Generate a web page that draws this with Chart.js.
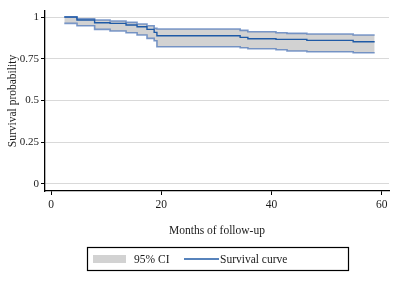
<!DOCTYPE html>
<html lang="en">
<head>
  <meta charset="UTF-8">
  <title>Survival curve</title>
  <script src="https://cdn.jsdelivr.net/npm/chart.js"></script>
  <style>
    html, body { margin: 0; padding: 0; background: #fff; }
    #wrap { width: 402px; height: 281px; }
  </style>
</head>
<body>
  <div id="wrap"><canvas id="myChart" width="402" height="281"></canvas></div>

  <script>
    // Datos (meses, probabilidad)
    const months   = [2.4, 4.7, 7.9, 10.7, 13.6, 15.6, 17.4, 18.7, 19.2, 34.3, 35.7, 40.8, 42.8, 46.4, 54.8, 58.7];
    const survival = [1.0, 0.982, 0.966, 0.962, 0.952, 0.942, 0.926, 0.908, 0.888, 0.878, 0.870, 0.866, 0.866, 0.860, 0.852, 0.852];
    const upperCI  = [1.0, 0.990, 0.982, 0.976, 0.968, 0.958, 0.948, 0.932, 0.928, 0.920, 0.912, 0.906, 0.902, 0.898, 0.892, 0.892];
    const lowerCI  = [0.962, 0.948, 0.926, 0.916, 0.906, 0.892, 0.872, 0.858, 0.822, 0.816, 0.810, 0.804, 0.796, 0.792, 0.786, 0.786];
    const yTicks = [0, 0.25, 0.5, 0.75, 1];
    const xTicks = [0, 20, 40, 60];

    const serif = 'Liberation Serif';
    const textColor = '#1a1a1a';
    const ciFill = '#d2d2d2';
    const ciLine = 'rgba(80, 120, 185, 0.75)';
    const survLine = '#1f5aa6';

    function toPoints(ys) {
      return months.map((m, i) => ({ x: m, y: ys[i] }));
    }

    // Leyenda con recuadro, dibujada debajo del grafico
    const boxLegend = {
      id: 'boxLegend',
      afterDraw(chart) {
        const ctx = chart.ctx;
        ctx.save();
        ctx.strokeStyle = '#000';
        ctx.lineWidth = 1.2;
        ctx.strokeRect(87.5, 247.5, 261, 23);

        ctx.fillStyle = ciFill;
        ctx.fillRect(93, 255, 33, 8);

        ctx.strokeStyle = survLine;
        ctx.lineWidth = 1.3;
        ctx.beginPath();
        ctx.moveTo(184, 259);
        ctx.lineTo(219, 259);
        ctx.stroke();

        ctx.fillStyle = textColor;
        ctx.font = '11.5px "' + serif + '"';
        ctx.textBaseline = 'middle';
        ctx.fillText(chart.data.datasets[1].label, 134, 259.5);
        ctx.fillText(chart.data.datasets[0].label, 220, 259.5);
        ctx.restore();
      }
    };

    const ctx = document.getElementById('myChart').getContext('2d');
    new Chart(ctx, {
      type: 'line',
      data: {
        datasets: [
          {
            label: 'Survival curve',
            data: toPoints(survival),
            stepped: true,
            borderColor: survLine,
            borderWidth: 1.4,
            pointRadius: 0,
            fill: false
          },
          {
            label: '95% CI',
            data: toPoints(upperCI),
            stepped: true,
            borderColor: ciLine,
            borderWidth: 1.6,
            pointRadius: 0,
            backgroundColor: ciFill,
            fill: '+1'
          },
          {
            label: 'lower',
            data: toPoints(lowerCI),
            stepped: true,
            borderColor: ciLine,
            borderWidth: 1.6,
            pointRadius: 0,
            fill: false
          }
        ]
      },
      options: {
        responsive: false,
        animation: false,
        layout: { padding: { left: 0, right: 13, top: 11, bottom: 42 } },
        plugins: {
          legend: { display: false },
          tooltip: { enabled: false },
          filler: { drawTime: 'beforeDatasetsDraw' }
        },
        scales: {
          x: {
            type: 'linear',
            min: -1.1,
            max: 61.3,
            afterBuildTicks: s => { s.ticks = xTicks.map(v => ({ value: v })); },
            afterFit: s => { s.height = 48; },
            border: { display: true, color: '#000', width: 1.3 },
            grid: { drawOnChartArea: false, drawTicks: true, tickLength: 4, tickColor: '#000' },
            ticks: { color: textColor, padding: 3, maxRotation: 0, font: { family: serif, size: 11.5 } },
            title: {
              display: true,
              text: 'Months of follow-up',
              color: textColor,
              padding: { top: 0, bottom: 1 },
              font: { family: serif, size: 11.5 }
            }
          },
          y: {
            min: -0.042,
            max: 1.036,
            afterBuildTicks: s => { s.ticks = yTicks.map(v => ({ value: v })); },
            afterFit: s => { s.width = 45; },
            border: { display: true, color: '#000', width: 1.3 },
            grid: { color: '#d9d9d9', lineWidth: 1, drawTicks: true, tickLength: 4, tickColor: '#000' },
            ticks: {
              color: textColor,
              padding: 2,
              font: { family: serif, size: 11 },
              callback: v => String(v)
            },
            title: {
              display: true,
              text: 'Survival probability',
              color: textColor,
              padding: { top: 6, bottom: 0 },
              font: { family: serif, size: 11.5 }
            }
          }
        }
      },
      plugins: [boxLegend]
    });
  </script>
</body>
</html>
